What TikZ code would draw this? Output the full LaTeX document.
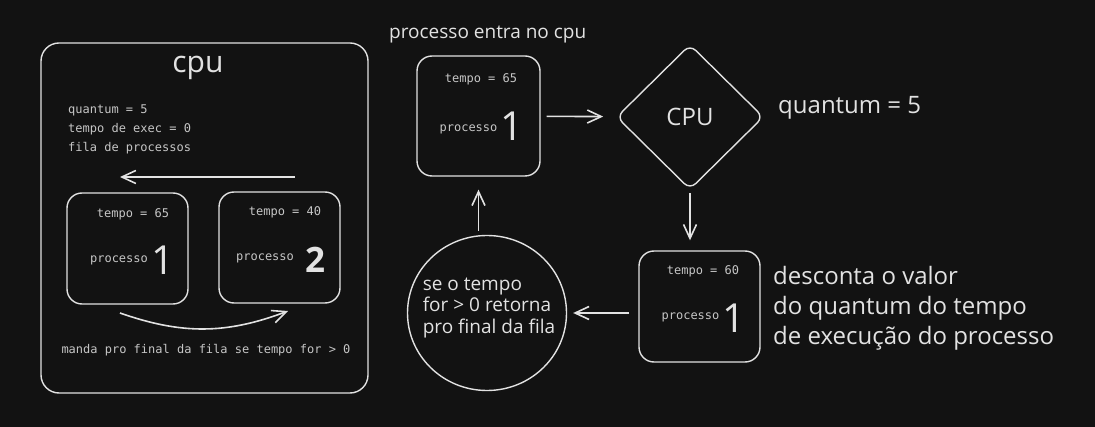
\documentclass[tikz,border=0pt]{standalone}
\usepackage{fontspec}
\setmainfont{Open Sans}
\setmonofont{DejaVu Sans Mono}
\newfontfamily\maofont{Open Sans}
\usetikzlibrary{arrows.meta,shapes.geometric,positioning}
\definecolor{fundo}{HTML}{121212}
\definecolor{traco}{HTML}{E2E2E2}
\definecolor{cinza}{HTML}{C6C6C6}

\begin{document}
\begin{tikzpicture}[
		x=1pt, y=-1pt,
		every node/.style={inner sep=0pt, text=traco},
		caixa/.style={draw=traco, line width=1.4pt, rounded corners=15pt, minimum width=121pt, minimum height=111pt},
		mono/.style={font=\ttfamily\fontsize{12}{19}\selectfont, text=cinza},
		mao/.style={font=\maofont\fontsize{19}{21.5}\selectfont},
		grande/.style={font=\maofont\fontsize{24}{30}\selectfont},
		digito/.style={font=\maofont\fontsize{40}{40}\selectfont},
		seta/.style={draw=traco, line width=1.6pt, -{Straight Barb[length=14pt,width=13pt]}}
		]
		
		\fill[fundo] (0,0) rectangle (1095,427);
		\useasboundingbox (0,0) rectangle (1095,427);
		
		% caixa da cpu com a fila
		\node[draw=traco, line width=1.4pt, rounded corners=18pt, minimum width=327pt, minimum height=350pt] (cpubox) at (204.5,218) {};
		\node[font=\fontsize{30}{30}\selectfont, anchor=base] (titulo) at (198,73) {cpu};
		\node[mono, anchor=west, align=left] (vars) at (68,129) {quantum = 5\\tempo de exec = 0\\fila de processos};
		\coordinate (filaini) at (295,177);
		\coordinate (filafim) at (120,177);
		\draw[seta] (filaini) -- (filafim);
		
		\node[caixa] (fila1) at (127.5,248.5) {};
		\node[mono] (fila1tempo) at (133,214) {tempo = 65};
		\node[mono] (fila1nome) at (119,260) {processo};
		\node[digito] (fila1num) at (163,260) {1};
		
		\node[caixa] (fila2) at (279.5,247.5) {};
		\node[mono] (fila2tempo) at (285,212) {tempo = 40};
		\node[mono] (fila2nome) at (265,258) {processo};
		\node[digito, font=\maofont\bfseries\fontsize{35}{35}\selectfont] (fila2num) at (315,260) {2};
		
		\coordinate (volta1) at (120,313);
		\coordinate (volta2) at (288,311);
		\draw[seta] (volta1) to[bend right=20] (volta2);
		\node[mono] (manda) at (206,350) {manda pro final da fila se tempo for > 0};
		
		% ciclo do processo
		\node[mao, anchor=west] (entratxt) at (389,35) {processo entra no cpu};
		\node[caixa, minimum width=123pt, minimum height=120pt] (entra) at (478.5,116) {};
		\node[mono] (entratempo) at (481,79) {tempo = 65};
		\node[mono] (entranome) at (468.5,129) {processo};
		\node[digito] (entranum) at (512,126) {1};
		
		\node[draw=traco, line width=1.4pt, diamond, rounded corners=8pt, minimum width=147pt, minimum height=145pt, grande] (cpu) at (690,117) {CPU};
		\node[grande, anchor=west] (quantum) at (778,108) {quantum = 5};
		
		\node[caixa] (desconto) at (699.5,306.5) {};
		\node[mono] (descontotempo) at (703,271) {tempo = 60};
		\node[mono] (descontonome) at (690.5,317) {processo};
		\node[digito] (descontonum) at (734,318) {1};
		\node[grande, anchor=west, align=left] (desctxt) at (773,308) {desconta o valor\\do quantum do tempo\\de execução do processo};
		
		\node[draw=traco, line width=1.4pt, ellipse, minimum width=159pt, minimum height=155pt] (retorno) at (487,313) {};
		\node[mao, align=left] (retornotxt) at (489,308) {se o tempo\\for > 0 retorna\\pro final da fila};
		
		\draw[seta, shorten <=6pt, shorten >=13pt] (entra) -- (cpu);
		\draw[seta, shorten <=3pt, shorten >=10pt] (cpu.south) -- (cpu.south |- desconto.north);
		\draw[seta, shorten <=9pt, shorten >=6pt] (retorno.east -| desconto.west) -- (retorno.east);
		\draw[seta, shorten <=4pt, shorten >=13pt] (entra.south |- retorno.north) -- (entra.south);
		
	\end{tikzpicture}
\end{document}
